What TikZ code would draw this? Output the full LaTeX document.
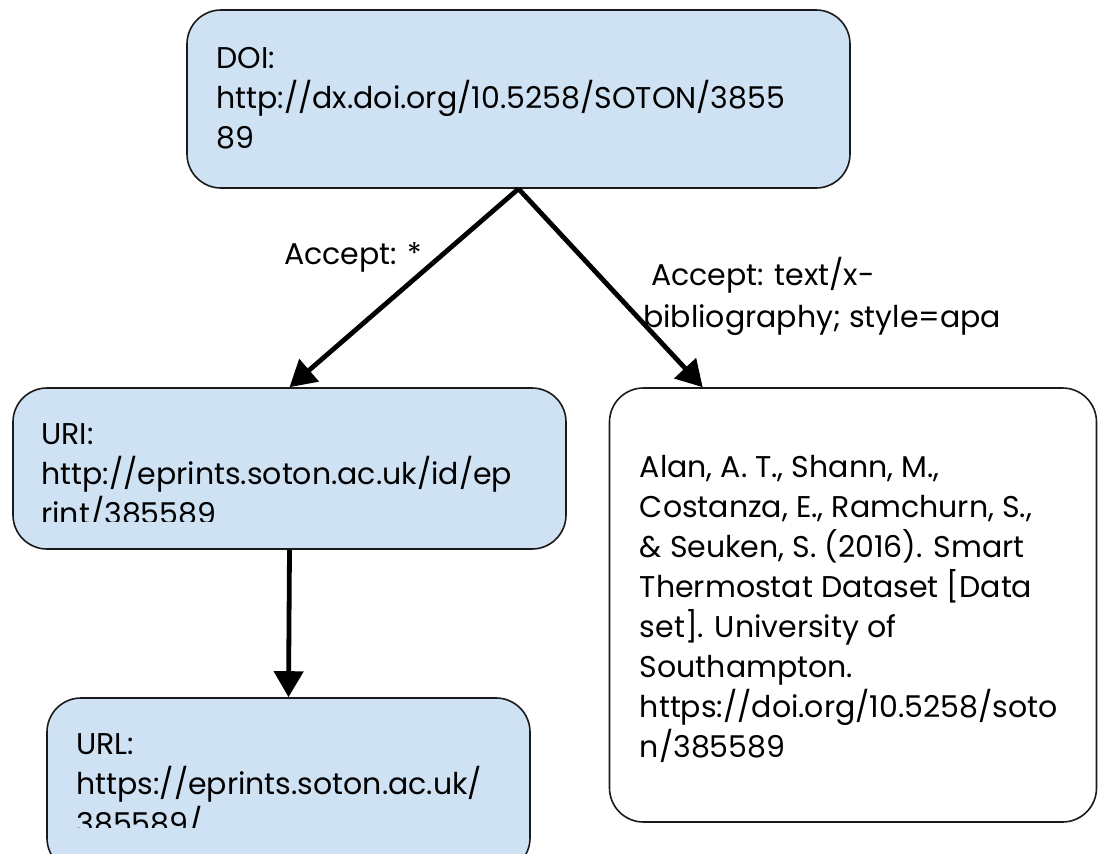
\documentclass[tikz,border=0pt]{standalone}
\usepackage{fontspec}
\setmainfont{Poppins}
\usetikzlibrary{arrows.meta}
\definecolor{boxblue}{HTML}{CFE2F3}
\definecolor{edgec}{HTML}{1A1A1A}

\begin{document}
\begin{tikzpicture}[x=1pt, y=-1pt,
	box/.style={rectangle, rounded corners=34pt, draw=edgec, line width=1.6pt, inner sep=0pt},
	bluebox/.style={box, fill=boxblue},
	txt/.style={anchor=north west, align=left, inner sep=0pt, font=\fontsize{30}{40}\selectfont},
	lbl/.style={txt, font=\fontsize{30}{42}\selectfont},
	arr/.style={line width=4.8pt, -{Triangle[length=26pt, width=29pt]}},]
	 \useasboundingbox (0,0) rectangle (1098,854);

	 \node[bluebox, minimum width=663pt, minimum height=178pt] (doi) at (518.5,99) {};
	 \node[bluebox, minimum width=553pt, minimum height=161pt] (uri) at (289.5,468.5) {};
	 \node[bluebox, minimum width=483pt, minimum height=174pt] (url) at (288.5,785) {};
	 \node[box, fill=white, minimum width=487pt, minimum height=434pt] (bib) at (853,605) {};

	 \node[txt] (doitxt) at ([shift={(30,38)}]doi.north west) {DOI:\\http://dx.doi.org/10.5258/SOTON/3855\\89};
	 \begin{scope}
	 \clip (uri.north west) rectangle (566,521);
	 \node[txt] (uritxt) at ([shift={(29,36)}]uri.north west) {URI:\\http://eprints.soton.ac.uk/id/ep\\rint/385589};
	 \end{scope}
	 \begin{scope}
	 \clip (url.north west) rectangle (530,827);
	 \node[txt] (urltxt) at ([shift={(30,36)}]url.north west) {URL:\\https://eprints.soton.ac.uk/\\385589/};
	 \end{scope}
	 \node[txt] (bibtxt) at ([shift={(31,68)}]bib.north west) {Alan, A. T., Shann, M.,\\Costanza, E., Ramchurn, S.,\\\& Seuken, S. (2016). Smart\\Thermostat Dataset [Data\\set]. University of\\Southampton.\\https://doi.org/10.5258/soto\\n/385589};

	 \coordinate (bibin) at ([xshift=94pt]bib.north west);
	 \draw[arr] (doi.south) -- (uri.north);
	 \draw[arr] (doi.south) -- (bibin);
	 \draw[arr] (uri.south) -- (url.north);

	 \node[lbl] (acc1) at (284,242) {Accept: *};
	 \node[lbl] (acc2) at (643,257) {\ Accept: text/x-\\bibliography; style=apa};
\end{tikzpicture}
\end{document}
